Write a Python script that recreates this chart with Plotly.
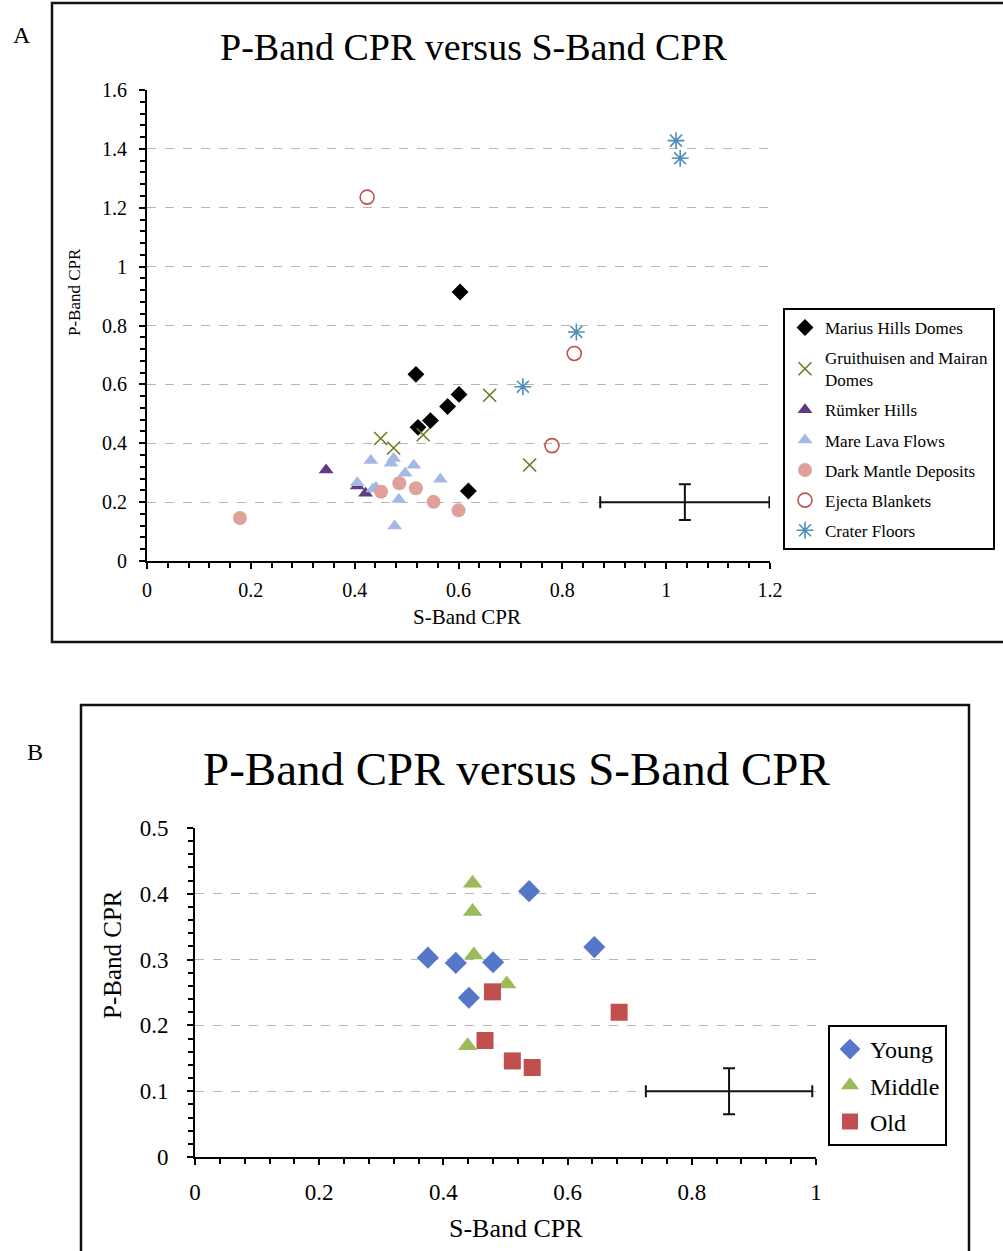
import plotly.graph_objects as go

W, H = 1003, 1251
FONT = "Liberation Serif"

# ---------------- Panel A data ----------------
marius_x = [0.603, 0.518, 0.601, 0.579, 0.546, 0.522, 0.619]
marius_y = [0.914, 0.634, 0.566, 0.525, 0.477, 0.454, 0.238]

gruit_x = [0.450, 0.475, 0.532, 0.660, 0.737]
gruit_y = [0.416, 0.384, 0.429, 0.563, 0.326]

rumker_x = [0.345, 0.405, 0.421]
rumker_y = [0.309, 0.255, 0.230]

mare_x = [0.431, 0.475, 0.470, 0.514, 0.497, 0.565, 0.405, 0.441, 0.435, 0.485, 0.477]
mare_y = [0.341, 0.348, 0.332, 0.325, 0.298, 0.278, 0.266, 0.250, 0.245, 0.209, 0.119]

dark_x = [0.179, 0.451, 0.486, 0.518, 0.552, 0.600]
dark_y = [0.146, 0.235, 0.264, 0.247, 0.201, 0.172]

ejecta_x = [0.424, 0.823, 0.780]
ejecta_y = [1.236, 0.705, 0.392]

crater_x = [1.019, 1.027, 0.827, 0.724]
crater_y = [1.428, 1.368, 0.778, 0.592]

errA_x, errA_y = [1.036], [0.200]
errA_dx, errA_dy = [0.163], [0.061]

# ---------------- Panel B data ----------------
young_x = [0.538, 0.375, 0.420, 0.480, 0.643, 0.441]
young_y = [0.404, 0.303, 0.295, 0.296, 0.319, 0.242]

middle_x = [0.447, 0.447, 0.449, 0.502, 0.439]
middle_y = [0.416, 0.373, 0.307, 0.263, 0.169]

old_x = [0.479, 0.467, 0.511, 0.543, 0.683]
old_y = [0.251, 0.177, 0.146, 0.136, 0.220]

errB_x, errB_y = [0.860], [0.100]
errB_dx, errB_dy = [0.134], [0.035]

title_text = "P-Band CPR versus S-Band CPR"
xlab = "S-Band CPR"
ylab = "P-Band CPR"


def px(x):
    return x / W


def py(y):
    return 1 - y / H


fig = go.Figure()


def sc(x, y, name, symbol, color, size, xa, ya, legend, line=None, group=None):
    marker = dict(symbol=symbol, size=size, color=color)
    if line is not None:
        marker["line"] = line
    fig.add_trace(go.Scatter(
        x=x, y=y, mode="markers", name=name, marker=marker,
        xaxis=xa, yaxis=ya, legend=legend, legendgroup=group or name,
        cliponaxis=False,
    ))


# Panel A traces
sc(marius_x, marius_y, "Marius Hills Domes", "diamond", "#000000", 13, "x", "y", "legend")
sc(gruit_x, gruit_y, "Gruithuisen and Mairan<br>Domes", "x-thin-open", "#6b7a26", 13, "x", "y", "legend",
   line=dict(color="#6b7a26", width=1.6))
sc(rumker_x, rumker_y, "Rümker Hills", "triangle-up", "#5f3a80", 13, "x", "y", "legend")
sc(mare_x, mare_y, "Mare Lava Flows", "triangle-up", "#a5b9e6", 13, "x", "y", "legend")
sc(dark_x, dark_y, "Dark Mantle Deposits", "circle", "#e0a09b", 14, "x", "y", "legend")
sc(ejecta_x, ejecta_y, "Ejecta Blankets", "circle-open", "#c0504d", 14, "x", "y", "legend",
   line=dict(color="#c0504d", width=1.6))
sc(crater_x, crater_y, "Crater Floors", "asterisk-open", "#4f8db8", 14, "x", "y", "legend",
   line=dict(color="#4f8db8", width=1.6))

fig.add_trace(go.Scatter(
    x=errA_x, y=errA_y, mode="markers", marker=dict(size=1, color="rgba(0,0,0,0)"),
    error_x=dict(type="data", array=errA_dx, color="#111111", thickness=2, width=6),
    error_y=dict(type="data", array=errA_dy, color="#111111", thickness=2, width=6),
    xaxis="x", yaxis="y", showlegend=False, hoverinfo="skip",
))

# Panel B traces
sc(young_x, young_y, "Young", "diamond", "#5676c9", 17, "x2", "y2", "legend2")
sc(middle_x, middle_y, "Middle", "triangle-up", "#9bbb59", 17, "x2", "y2", "legend2")
sc(old_x, old_y, "Old", "square", "#c0504d", 17, "x2", "y2", "legend2")

fig.add_trace(go.Scatter(
    x=errB_x, y=errB_y, mode="markers", marker=dict(size=1, color="rgba(0,0,0,0)"),
    error_x=dict(type="data", array=errB_dx, color="#111111", thickness=2, width=6),
    error_y=dict(type="data", array=errB_dy, color="#111111", thickness=2, width=6),
    xaxis="x2", yaxis="y2", showlegend=False, hoverinfo="skip",
))

axis_common = dict(
    showline=True, linecolor="#000000", linewidth=2, ticks="outside", ticklen=6,
    tickwidth=2, tickcolor="#000000", zeroline=False, mirror=False, automargin=False,
)
minor_common = dict(tick0=0, ticks="outside", ticklen=5, tickwidth=2, tickcolor="#000000", showgrid=False)

fig.update_layout(
    width=W, height=H, margin=dict(l=0, r=0, t=0, b=0, pad=0, autoexpand=False),
    paper_bgcolor="white", plot_bgcolor="white",
    font=dict(family=FONT, color="#000000"),
    xaxis=dict(
        domain=[px(147), px(770)], range=[0, 1.2], tickvals=[0, 0.2, 0.4, 0.6, 0.8, 1, 1.2],
        ticktext=["0", "0.2", "0.4", "0.6", "0.8", "1", "1.2"],
        showgrid=False, anchor="y", tickfont=dict(size=20, family=FONT), ticklabelstandoff=4,
        minor=dict(dtick=0.04, **minor_common),
        **axis_common,
    ),
    yaxis=dict(
        domain=[py(561), py(90)], range=[0, 1.6],
        tickvals=[0, 0.2, 0.4, 0.6, 0.8, 1, 1.2, 1.4, 1.6],
        ticktext=["0", "0.2", "0.4", "0.6", "0.8", "1", "1.2", "1.4", "1.6"],
        showgrid=True, gridcolor="#b5b5b5", gridwidth=1.2, griddash="dash",
        anchor="x", tickfont=dict(size=20, family=FONT), ticklabelstandoff=8,
        minor=dict(dtick=0.04, **minor_common),
        **axis_common,
    ),
    xaxis2=dict(
        domain=[px(195), px(816)], range=[0, 1], tickvals=[0, 0.2, 0.4, 0.6, 0.8, 1],
        ticktext=["0", "0.2", "0.4", "0.6", "0.8", "1"],
        showgrid=False, anchor="y2", tickfont=dict(size=23, family=FONT), ticklabelstandoff=7,
        minor=dict(dtick=0.04, **minor_common),
        **axis_common,
    ),
    yaxis2=dict(
        domain=[py(1157), py(828)], range=[0, 0.5],
        tickvals=[0, 0.1, 0.2, 0.3, 0.4, 0.5],
        ticktext=["0", "0.1", "0.2", "0.3", "0.4", "0.5"],
        showgrid=True, gridcolor="#b5b5b5", gridwidth=1.2, griddash="dash",
        anchor="x2", tickfont=dict(size=23, family=FONT), ticklabelstandoff=14,
        minor=dict(dtick=0.02, **minor_common),
        **axis_common,
    ),
    legend=dict(
        x=px(783), y=py(308), xanchor="left", yanchor="top",
        bordercolor="#000000", borderwidth=2, bgcolor="white",
        font=dict(size=17, family=FONT), traceorder="grouped", tracegroupgap=5,
        itemwidth=30,
    ),
    legend2=dict(
        x=px(828), y=py(1025), xanchor="left", yanchor="top",
        bordercolor="#000000", borderwidth=2, bgcolor="white",
        font=dict(size=24, family=FONT), traceorder="grouped", tracegroupgap=2,
        itemwidth=30,
    ),
)

ann = []
# titles
ann.append(dict(text=title_text, x=px(473), y=py(47), xref="paper", yref="paper",
                showarrow=False, font=dict(size=38, family=FONT), xanchor="center", yanchor="middle"))
ann.append(dict(text=title_text, x=px(516), y=py(769), xref="paper", yref="paper",
                showarrow=False, font=dict(size=47, family=FONT), xanchor="center", yanchor="middle"))
# axis titles
ann.append(dict(text=xlab, x=px(467), y=py(617), xref="paper", yref="paper",
                showarrow=False, font=dict(size=21, family=FONT), xanchor="center", yanchor="middle"))
ann.append(dict(text=ylab, x=px(75), y=py(292), xref="paper", yref="paper", textangle=-90,
                showarrow=False, font=dict(size=17, family=FONT), xanchor="center", yanchor="middle"))
ann.append(dict(text=xlab, x=px(516), y=py(1228), xref="paper", yref="paper",
                showarrow=False, font=dict(size=26, family=FONT), xanchor="center", yanchor="middle"))
ann.append(dict(text=ylab, x=px(112), y=py(955), xref="paper", yref="paper", textangle=-90,
                showarrow=False, font=dict(size=25, family=FONT), xanchor="center", yanchor="middle"))
# panel labels
ann.append(dict(text="A", x=px(22), y=py(35), xref="paper", yref="paper",
                showarrow=False, font=dict(size=24, family=FONT), xanchor="center", yanchor="middle"))
ann.append(dict(text="B", x=px(35), y=py(752), xref="paper", yref="paper",
                showarrow=False, font=dict(size=24, family=FONT), xanchor="center", yanchor="middle"))
fig.update_layout(annotations=ann)

# panel frames
fig.add_shape(type="rect", xref="paper", yref="paper",
              x0=px(52), x1=px(1010), y0=py(642), y1=py(3),
              line=dict(color="#111111", width=2.5), layer="below")
fig.add_shape(type="rect", xref="paper", yref="paper",
              x0=px(81), x1=px(969), y0=py(1260), y1=py(705),
              line=dict(color="#111111", width=2.5), layer="below")

fig.write_html("out.html", config={"displayModeBar": False},
               post_script="document.body.style.margin='0';document.body.style.overflow='hidden';")
